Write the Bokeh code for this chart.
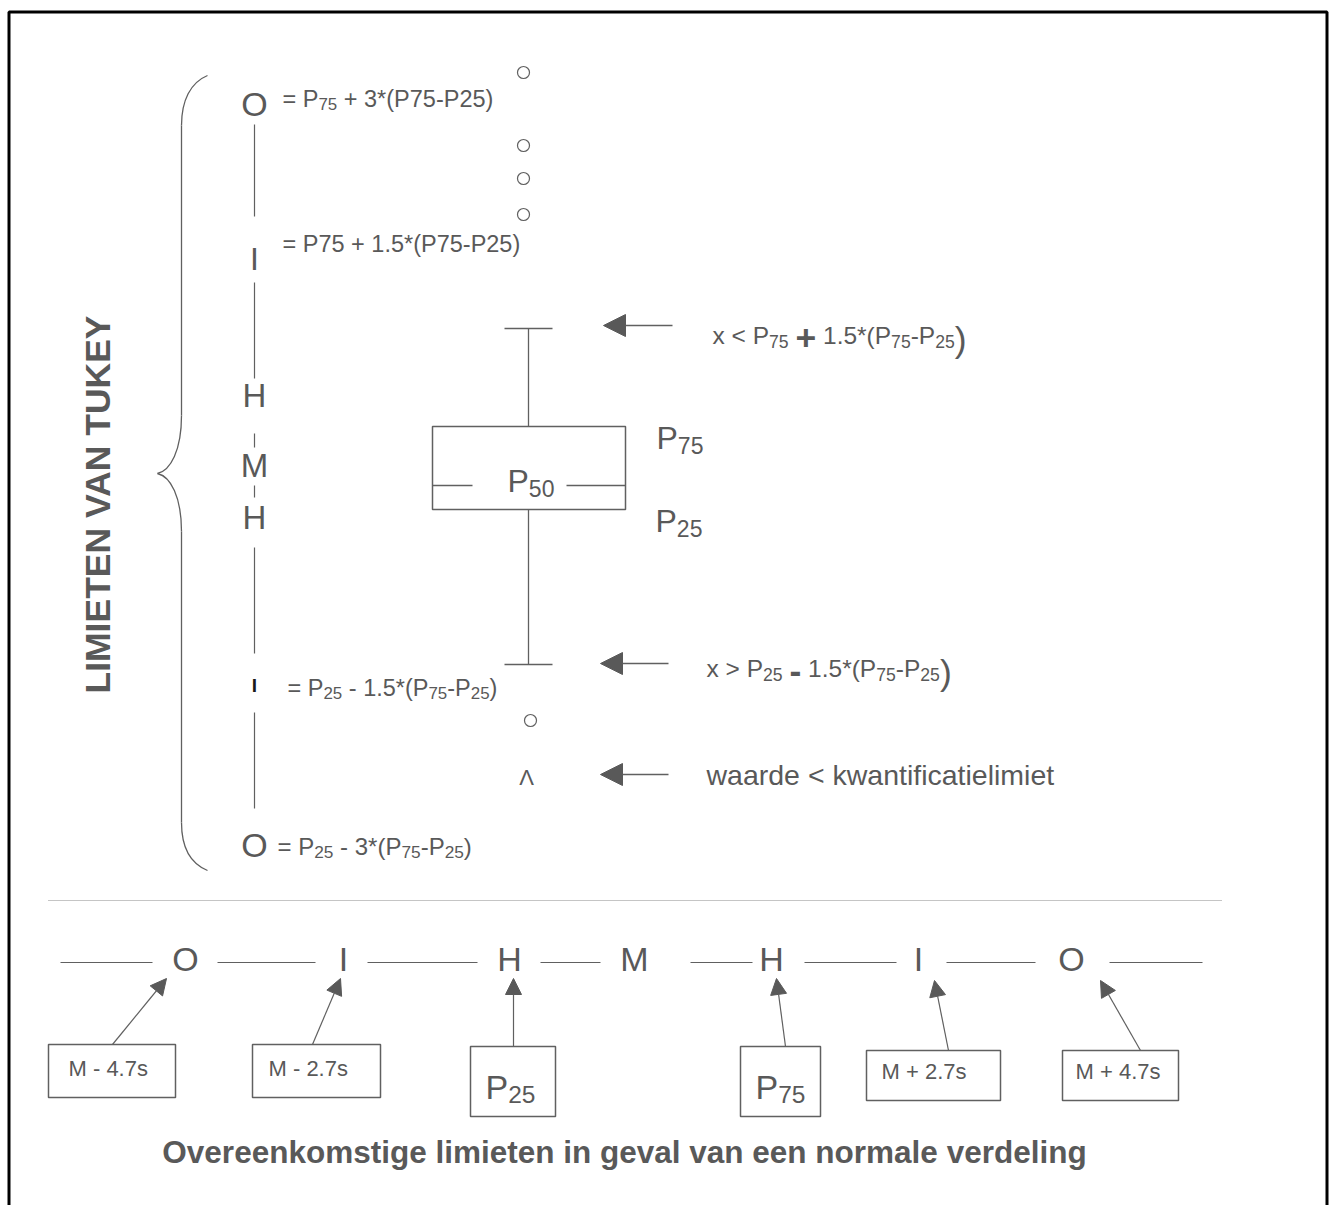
import math
from bokeh.plotting import figure
from bokeh.models import Range1d, ColumnDataSource, Arrow, NormalHead
from bokeh.embed import file_html
from bokeh.resources import INLINE
from bokeh.core.properties import value

FONT = "Liberation Sans"
GREY = "#595959"
LINE = "#606060"

# ------------------------------------------------------------------ content
side_title = "LIMIETEN VAN TUKEY"
bottom_title = "Overeenkomstige limieten in geval van een normale verdeling"
tukey_letters = ["O", "I", "H", "M", "H", "I", "O"]
normal_letters = ["O", "I", "H", "M", "H", "I", "O"]
tukey_formulas = ["= P_{75} + 3*(P75-P25)",
                  "= P75 + 1.5*(P75-P25)",
                  "= P_{25} - 1.5*(P_{75}-P_{25})",
                  "= P_{25} - 3*(P_{75}-P_{25})"]
whisker_notes = ["x < P_{75} ~{+} 1.5*(P_{75}-P_{25}#{)}",
                 "x > P_{25} ~{-} 1.5*(P_{75}-P_{25}#{)}",
                 "waarde < kwantificatielimiet"]
box_labels = ["P_{75}", "P_{50}", "P_{25}"]
normal_boxes = ["M - 4.7s", "M - 2.7s", "P_{25}", "P_{75}", "M + 2.7s", "M + 4.7s"]
censored_symbol = "\u039b"

# ------------------------------------------------------------------ layout (page pixels)
scale_x = 254
tukey_letter_y = [103, 258, 395, 465, 517, 685, 844]
tukey_letter_fs = [34, 32, 33, 33, 33, 19, 34]
tukey_letter_col = [GREY, GREY, GREY, GREY, GREY, "#1a1a1a", GREY]
tukey_letter_style = ["normal"] * 5 + ["bold", "normal"]
tukey_line_spans = [(124, 216), (282, 378), (433, 447), (485, 497), (547, 653), (712, 808)]
formula_pos = [(282, 98), (282, 243), (287, 687), (277, 846)]
formula_fs = [23.5, 23.5, 23.5, 24]
outlier_pts = [(523, 72), (523, 145), (523, 178), (523, 214), (530, 720)]
caret_pos = (526, 777)
box_lrtb = (432, 625, 426, 509)
whisk_x = 528
whisk_top, whisk_bot = 328, 664
cap_half = 24
median_y = 485
median_gap = (472, 566)
box_label_pos = [(656, 437), (507, 480), (655, 520)]
note_pos = [(712, 335), (706, 668), (706, 774)]
note_fs = [24.5, 24.5, 28.5]
left_arrows = [(672, 325, 603, 325), (668, 663, 600, 663), (668, 774, 600, 774)]

row_y = 958
row_line_y = 962
row_letter_x = [185, 343, 509, 634, 771, 918, 1071]
row_spans = [(60, 152), (217, 315), (367, 477), (540, 600), (690, 752), (804, 896), (946, 1035), (1109, 1202)]
nbox_rect = [(48, 175, 1044, 1097), (252, 380, 1044, 1097), (470, 555, 1046, 1116),
             (740, 820, 1046, 1116), (866, 1000, 1050, 1100), (1062, 1178, 1050, 1100)]
nbox_text = [(68, 1068, 22), (268, 1068, 22), (485, 1086, 34), (755, 1086, 34), (881, 1071, 22), (1075, 1071, 22)]
nbox_arrows = [(112, 1044, 166, 978), (312, 1044, 340, 978), (513, 1046, 513, 978),
               (785, 1046, 776, 978), (948, 1050, 934, 980), (1140, 1050, 1100, 980)]
title_pos = (624, 1151)

# ------------------------------------------------------------------ metrics (Arial / Liberation Sans)
REG = {' ': 278, '!': 278, '(': 333, ')': 333, '*': 389, '+': 584, ',': 278, '-': 333, '.': 278,
       '<': 584, '=': 584, '>': 584}
for d in "0123456789":
    REG[d] = 556
REG.update(dict(zip("ABCDEFGHIJKLMNOPQRSTUVWXYZ",
                    [667, 667, 722, 722, 667, 611, 778, 722, 278, 500, 667, 556, 833, 722, 778, 667, 778, 722,
                     667, 611, 722, 667, 944, 667, 667, 611])))
REG.update(dict(zip("abcdefghijklmnopqrstuvwxyz",
                    [556, 556, 500, 556, 556, 278, 556, 556, 222, 222, 500, 222, 833, 556, 556, 556, 556, 333,
                     500, 278, 556, 500, 722, 500, 500, 500])))
BOLD = dict(REG)


def parse(s):
    out = []
    i = 0
    buf = ""
    while i < len(s):
        if s[i:i + 2] in ("_{", "~{", "#{"):
            if buf:
                out.append((buf, "n"))
                buf = ""
            j = s.index("}", i)
            out.append((s[i + 2:j], {"_": "s", "~": "b", "#": "p"}[s[i]]))
            i = j + 1
        else:
            buf += s[i]
            i += 1
    if buf:
        out.append((buf, "n"))
    return out


rows = {"normal": dict(x=[], y=[], t=[], fs=[]), "bold": dict(x=[], y=[], t=[], fs=[])}


def width(txt, size, style):
    table = BOLD if style == "bold" else REG
    return sum(table.get(c, 556) for c in txt) / 1000 * size


def rich(x0, yb, s, fs):
    """Lay out text with sub-scripts starting at x0 on baseline yb."""
    x = x0
    for txt, kind in parse(s):
        if kind == "n":
            size, style, dy = fs, "normal", 0
        elif kind == "s":
            size, style, dy = fs * 0.72, "normal", fs * 0.24
        elif kind == "b":
            size, style, dy = fs * 1.45, "bold", fs * 0.12
        else:
            size, style, dy = fs * 1.45, "normal", fs * 0.18
        core = txt.strip(" ")
        lead = len(txt) - len(txt.lstrip(" "))
        if core:
            r = rows[style]
            r["x"].append(x + width(" " * lead, size, style))
            r["y"].append(yb + dy)
            r["t"].append(core)
            r["fs"].append("%.1fpx" % size)
        x += width(txt, size, style)


# ------------------------------------------------------------------ figure
p = figure(width=1330, height=1205, x_range=Range1d(0, 1330), y_range=Range1d(1205, 0),
           output_backend="svg", toolbar_location=None, x_axis_location=None, y_axis_location=None,
           min_border=0)
p.grid.grid_line_color = None
p.outline_line_color = None
p.background_fill_color = "white"

# frame
p.line([8.5, 8.5, 1326.5, 1326.5], [1215, 11.5, 11.5, 1215], line_color="black", line_width=3)

# brace
p.bezier(x0=[207, 181, 157, 181], y0=[75, 415, 473, 822],
         x1=[181, 157, 181, 207], y1=[125, 473, 531, 870],
         cx0=[190, 181, 170, 181], cy0=[82, 450, 476, 846],
         cx1=[181, 170, 181, 190], cy1=[100, 470, 496, 863],
         line_color=LINE, line_width=1.3)
p.segment(x0=[181, 181], y0=[125, 531], x1=[181, 181], y1=[415, 822], line_color=LINE, line_width=1.3)

# side title
p.text(x=[97], y=[504], text=[side_title], angle=math.pi / 2, text_align="center", text_baseline="middle",
       text_font=value(FONT), text_font_size="35.5px", text_font_style="bold", text_color=GREY)

# Tukey scale letters and lines
for st in ("normal", "bold"):
    idx = [i for i, s in enumerate(tukey_letter_style) if s == st]
    p.text(x=[scale_x] * len(idx), y=[tukey_letter_y[i] for i in idx], text=[tukey_letters[i] for i in idx],
           text_font_size=[f"{tukey_letter_fs[i]}px" for i in idx], text_color=[tukey_letter_col[i] for i in idx],
           text_align="center", text_baseline="middle", text_font=value(FONT), text_font_style=st)
p.segment(x0=[scale_x] * len(tukey_line_spans), y0=[a for a, b in tukey_line_spans],
          x1=[scale_x] * len(tukey_line_spans), y1=[b for a, b in tukey_line_spans],
          line_color=LINE, line_width=1.2)

for (fx, fy), fs, f in zip(formula_pos, formula_fs, tukey_formulas):
    rich(fx, fy, f, fs)

# outliers / censored
p.scatter(x=[a for a, b in outlier_pts], y=[b for a, b in outlier_pts], marker="circle", size=12,
          fill_color="white", line_color=LINE, line_width=1.2)
p.text(x=[caret_pos[0]], y=[caret_pos[1]], text=[censored_symbol], text_align="center", text_baseline="middle",
       text_font=value(FONT), text_font_size="22px", text_color=GREY)

# boxplot
L, R, T, B = box_lrtb
p.quad(left=[L], right=[R], top=[T], bottom=[B], fill_color="white", line_color=LINE, line_width=1.5)
p.segment(x0=[whisk_x, whisk_x, whisk_x - cap_half, whisk_x - cap_half, L, median_gap[1]],
          y0=[whisk_top, B, whisk_top, whisk_bot, median_y, median_y],
          x1=[whisk_x, whisk_x, whisk_x + cap_half, whisk_x + cap_half, median_gap[0], R],
          y1=[T, whisk_bot, whisk_top, whisk_bot, median_y, median_y],
          line_color=LINE, line_width=1.3)
for (bx, by), lab in zip(box_label_pos, box_labels):
    rich(bx, by, lab, 32)

# right notes and arrows
for (nx, ny), fs, note in zip(note_pos, note_fs, whisker_notes):
    rich(nx, ny, note, fs)
for (x0, y0, x1, y1) in left_arrows:
    p.add_layout(Arrow(end=NormalHead(size=22, fill_color=GREY, line_color=GREY, line_width=1),
                       x_start=x0, y_start=y0, x_end=x1, y_end=y1, line_color=LINE, line_width=1.3))

# separator
p.line([48, 1222], [900, 900], line_color="#8a8a8a", line_width=1, line_dash="1 1")

# normal row
p.text(x=row_letter_x, y=[row_y] * len(row_letter_x), text=normal_letters, text_align="center",
       text_baseline="middle", text_font=value(FONT), text_font_size="34px", text_color=GREY)
p.segment(x0=[a for a, b in row_spans], y0=[row_line_y] * len(row_spans),
          x1=[b for a, b in row_spans], y1=[row_line_y] * len(row_spans), line_color=LINE, line_width=1.2)
p.quad(left=[r[0] for r in nbox_rect], right=[r[1] for r in nbox_rect],
       top=[r[2] for r in nbox_rect], bottom=[r[3] for r in nbox_rect],
       fill_color="white", line_color=LINE, line_width=1.5)
for (tx, ty, fs), lab in zip(nbox_text, normal_boxes):
    rich(tx, ty, lab, fs)
for (x0, y0, x1, y1) in nbox_arrows:
    p.add_layout(Arrow(end=NormalHead(size=16, fill_color=GREY, line_color=GREY, line_width=1),
                       x_start=x0, y_start=y0, x_end=x1, y_end=y1, line_color=LINE, line_width=1.2))

p.text(x=[title_pos[0]], y=[title_pos[1]], text=[bottom_title], text_align="center", text_baseline="middle",
       text_font=value(FONT), text_font_size="31.5px", text_font_style="bold", text_color=GREY)

# rich text pieces
for style, r in rows.items():
    if r["x"]:
        src = ColumnDataSource(r)
        p.text(x="x", y="y", text="t", text_font_size="fs", source=src, text_align="left",
               text_baseline="alphabetic", text_font=value(FONT), text_font_style=style, text_color=GREY)

open("out.html", "w").write(file_html(p, INLINE))
